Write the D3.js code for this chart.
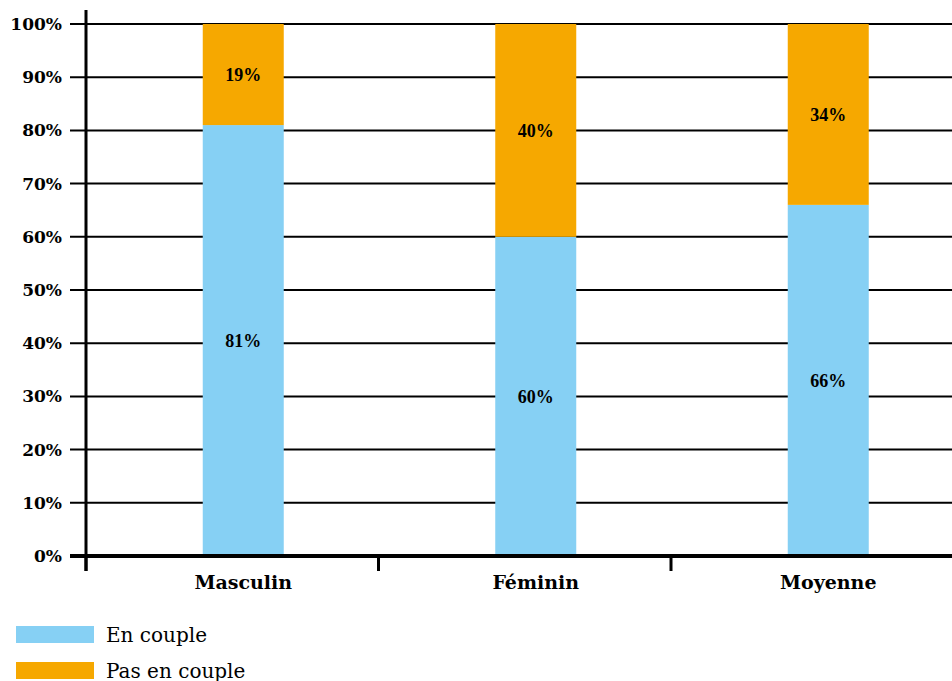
<!DOCTYPE html>
<html>
<head>
<meta charset="utf-8">
<script src="https://cdn.jsdelivr.net/npm/d3@7"></script>
<style>
  html, body { margin: 0; padding: 0; background: #fff; }
  svg { display: block; }
</style>
</head>
<body>
<svg id="chart" width="952" height="681"></svg>
<script>
// Share of people living as a couple, by sex
const categories = ["Masculin", "Féminin", "Moyenne"];
const enCouple = [81, 60, 66];
const pasEnCouple = [19, 40, 34];
const seriesNames = ["En couple", "Pas en couple"];
const seriesColors = ["#86D0F4", "#F6A800"];
const yTicks = [0, 10, 20, 30, 40, 50, 60, 70, 80, 90, 100];

const svg = d3.select("#chart");
const W = 952;

const plotLeft = 86, plotRight = 963.5, plotTop = 24, plotBottom = 556;
const barWidth = 81, barShift = 11;

const x = d3.scaleBand().domain(categories).range([plotLeft, plotRight]);
const y = d3.scaleLinear().domain([0, 100]).range([plotBottom, plotTop]);

const rows = categories.map((c, i) => ({ cat: c, "En couple": enCouple[i], "Pas en couple": pasEnCouple[i] }));
const stacked = d3.stack().keys(seriesNames)(rows);

// gridlines
svg.append("g")
  .selectAll("line")
  .data(yTicks.filter(t => t > 0))
  .join("line")
  .attr("x1", 70).attr("x2", W)
  .attr("y1", d => y(d)).attr("y2", d => y(d))
  .attr("stroke", "#000").attr("stroke-width", 2);

// bars
const cx = c => x(c) + x.bandwidth() / 2 + barShift;
stacked.forEach((s, si) => {
  svg.append("g")
    .selectAll("rect")
    .data(s)
    .join("rect")
    .attr("x", d => cx(d.data.cat) - barWidth / 2)
    .attr("width", barWidth)
    .attr("y", d => y(d[1]))
    .attr("height", d => y(d[0]) - y(d[1]))
    .attr("fill", seriesColors[si]);
});

// value labels
stacked.forEach((s, si) => {
  svg.append("g")
    .selectAll("text")
    .data(s)
    .join("text")
    .attr("x", d => cx(d.data.cat))
    .attr("y", d => y((d[0] + d[1]) / 2))
    .attr("dy", "0.35em")
    .attr("text-anchor", "middle")
    .attr("font-family", "'Liberation Serif', serif")
    .attr("font-weight", "bold")
    .attr("font-size", 18)
    .text(d => (d[1] - d[0]) + "%");
});

// y axis
const yAxis = d3.axisLeft(y).tickValues(yTicks).tickFormat(d => d + "%").tickSize(0).tickPadding(24);
const gy = svg.append("g").attr("transform", `translate(${plotLeft},0)`).call(yAxis);
gy.select(".domain").remove();
gy.selectAll("text")
  .attr("font-family", "'DejaVu Serif', serif")
  .attr("font-weight", "bold")
  .attr("font-size", 17)
  .attr("fill", "#000");

svg.append("line")
  .attr("x1", plotLeft).attr("x2", plotLeft)
  .attr("y1", 10).attr("y2", 571)
  .attr("stroke", "#000").attr("stroke-width", 3);

// x axis
svg.append("line")
  .attr("x1", 70).attr("x2", W)
  .attr("y1", plotBottom).attr("y2", plotBottom)
  .attr("stroke", "#000").attr("stroke-width", 4);

svg.append("g")
  .selectAll("line")
  .data(categories)
  .join("line")
  .attr("x1", d => x(d)).attr("x2", d => x(d))
  .attr("y1", plotBottom).attr("y2", 571)
  .attr("stroke", "#000").attr("stroke-width", 3);

svg.append("g")
  .selectAll("text")
  .data(categories)
  .join("text")
  .attr("x", d => cx(d))
  .attr("y", 589)
  .attr("text-anchor", "middle")
  .attr("font-family", "'DejaVu Serif', serif")
  .attr("font-weight", "bold")
  .attr("font-size", 19)
  .text(d => d);

// legend
const leg = svg.append("g")
  .selectAll("g")
  .data(seriesNames)
  .join("g")
  .attr("transform", (d, i) => `translate(16,${626 + i * 36})`);
leg.append("rect").attr("width", 78).attr("height", 17).attr("fill", (d, i) => seriesColors[i]);
leg.append("text")
  .attr("x", 90).attr("y", 8.5).attr("dy", "0.35em")
  .attr("font-family", "'DejaVu Serif', serif")
  .attr("font-size", 20)
  .text(d => d);
</script>
</body>
</html>
